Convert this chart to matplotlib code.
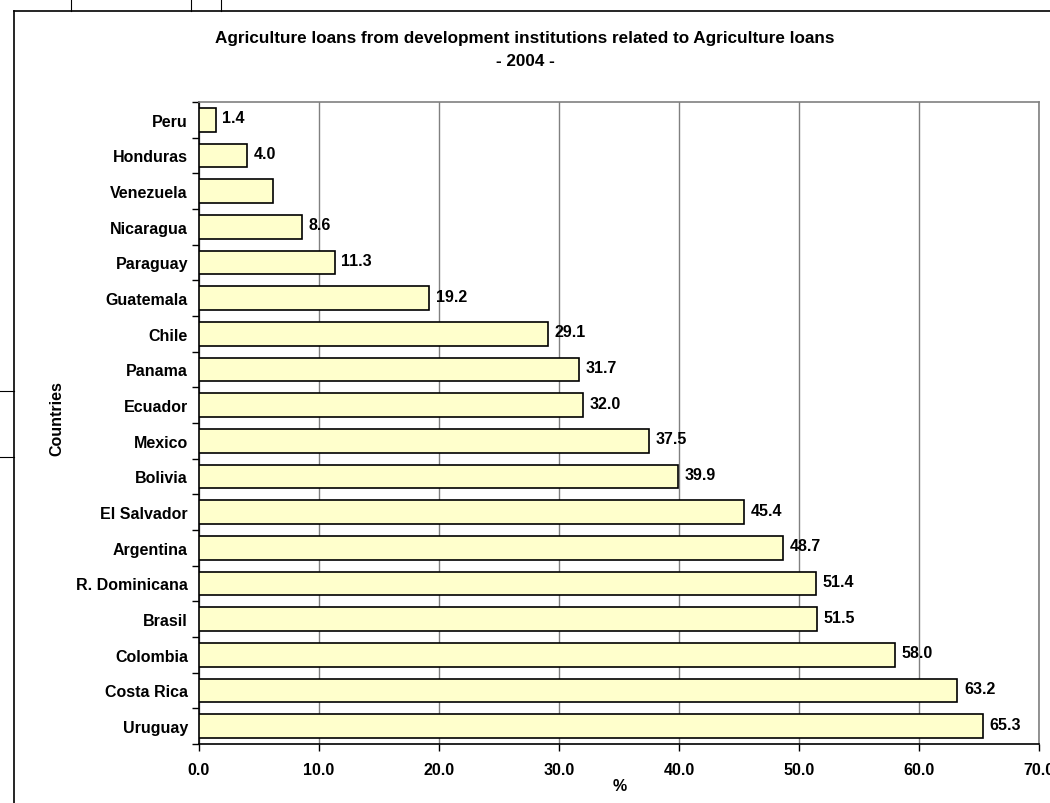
import numpy as np
import matplotlib
matplotlib.use("Agg")
import matplotlib.pyplot as plt
import matplotlib.ticker as mticker
from matplotlib.lines import Line2D

plt.rcParams["font.family"] = ["Liberation Sans", "DejaVu Sans"]
plt.rcParams["font.weight"] = "bold"

countries = ["Peru", "Honduras", "Venezuela", "Nicaragua", "Paraguay", "Guatemala",
             "Chile", "Panama", "Ecuador", "Mexico", "Bolivia", "El Salvador",
             "Argentina", "R. Dominicana", "Brasil", "Colombia", "Costa Rica", "Uruguay"]
share = [1.4, 4.0, 6.2, 8.6, 11.3, 19.2, 29.1, 31.7, 32.0, 37.5, 39.9, 45.4,
         48.7, 51.4, 51.5, 58.0, 63.2, 65.3]
shown_labels = ["1.4", "4.0", "", "8.6", "11.3", "19.2", "29.1", "31.7", "32.0", "37.5",
                "39.9", "45.4", "48.7", "51.4", "51.5", "58.0", "63.2", "65.3"]

W, H = 1050, 804
fig = plt.figure(figsize=(W / 100, H / 100), dpi=100)
ax = fig.add_axes([199 / W, 1 - 745 / H, (1039 - 199) / W, (745 - 103) / H])

y = np.arange(len(countries))
ax.barh(y, share, height=0.67, color="#FFFFCC", edgecolor="black", linewidth=1.2, zorder=3)
for yi, v, lab in zip(y, share, shown_labels):
    if lab:
        ax.annotate(lab, (v, yi), xytext=(4.8, 1.5), textcoords="offset points",
                    va="center", ha="left", fontsize=11.5, fontweight="bold", zorder=4)

ax.set_xlim(0, 70)
ax.set_ylim(len(countries) - 0.5, -0.5)
ax.xaxis.set_major_locator(mticker.MultipleLocator(10))
ax.xaxis.set_major_formatter(mticker.FormatStrFormatter("%.1f"))
ax.grid(axis="x", color="#808080", linewidth=1, zorder=0)
ax.set_axisbelow(True)

ax.set_yticks(y)
ax.set_yticklabels(countries)
ax.set_yticks(np.arange(len(countries) + 1) - 0.5, minor=True)
ax.tick_params(axis="y", which="major", length=0, pad=8, labelsize=11.5)
ax.tick_params(axis="y", which="minor", length=5, width=1, direction="out")
ax.tick_params(axis="x", length=5, width=1, direction="out", pad=8, labelsize=11.5)
for lab in ax.get_xticklabels() + ax.get_yticklabels():
    lab.set_fontweight("bold")

for s in ["top", "right"]:
    ax.spines[s].set_color("#808080")
    ax.spines[s].set_linewidth(1.2)
for s in ["left", "bottom"]:
    ax.spines[s].set_color("black")
    ax.spines[s].set_linewidth(1.2)

fig.text(525 / W, 1 - 39 / H, "Agriculture loans from development institutions related to Agriculture loans",
         ha="center", va="center", fontsize=12.3, fontweight="bold")
fig.text(525 / W, 1 - 61 / H, "- 2004 -", ha="center", va="center", fontsize=12.3, fontweight="bold")
fig.text(57 / W, 1 - 419 / H, "Countries", rotation=90, ha="center", va="center",
         fontsize=11.5, fontweight="bold")
fig.text(620 / W, 1 - 787 / H, "%", ha="center", va="center", fontsize=11.5, fontweight="bold")

# spreadsheet chart border and cell lines around it
def px_line(x0, y0, x1, y1, lw=1.2):
    fig.add_artist(Line2D([x0 / W, x1 / W], [1 - y0 / H, 1 - y1 / H],
                          transform=fig.transFigure, color="black", linewidth=lw))

px_line(14, 12, 1050, 12)
px_line(14, 12, 14, 804)
for xx in [71, 191, 221]:
    px_line(xx, 0, xx, 12, lw=0.8)
for yy in [392, 458]:
    px_line(0, yy, 14, yy, lw=0.8)

fig.savefig("out.png", dpi=100)
